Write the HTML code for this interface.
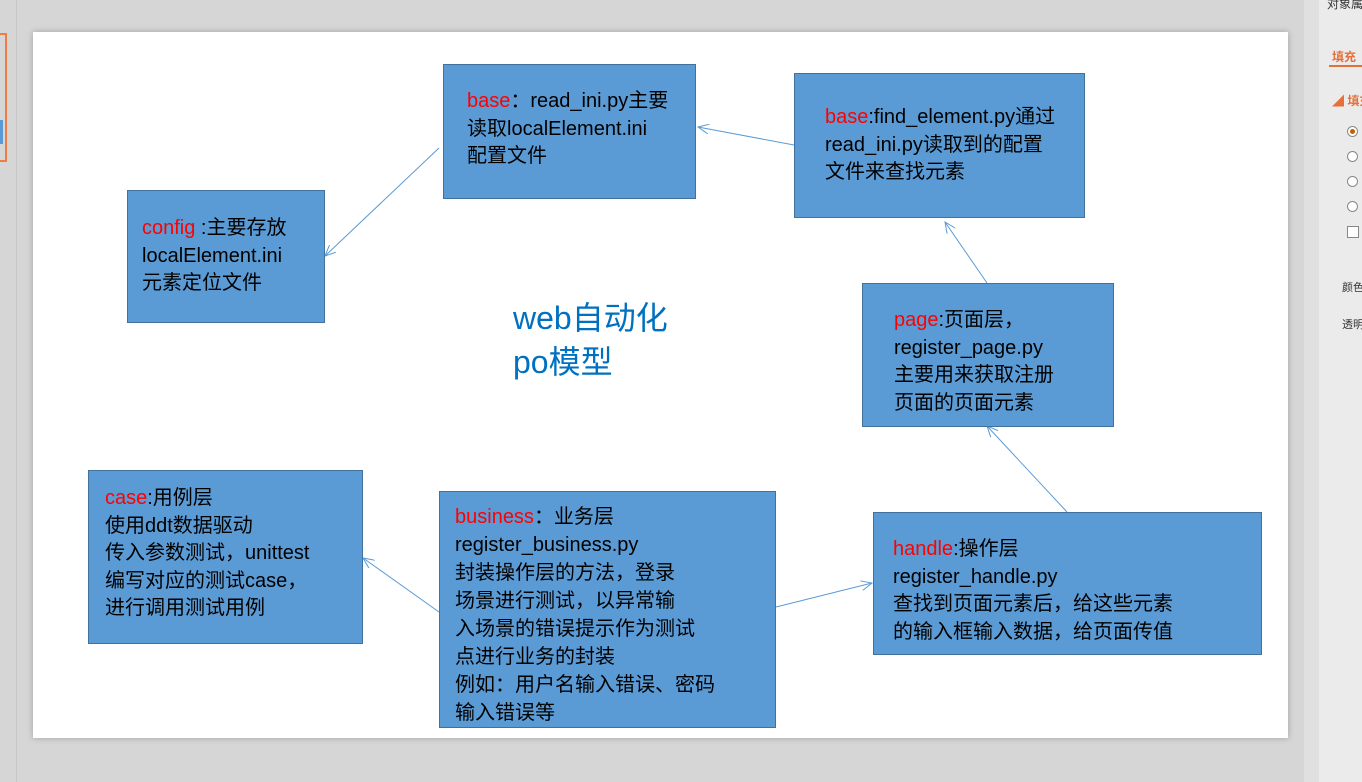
<!DOCTYPE html>
<html><head><meta charset="utf-8"><style>
body{margin:0;width:1362px;height:782px;background:#d6d6d6;position:relative;overflow:hidden;font-family:"Liberation Sans","Noto Sans CJK SC",sans-serif}
.slide{position:absolute;left:33px;top:32px;width:1255px;height:706px;background:#fff;box-shadow:0 0 6px rgba(0,0,0,.25)}
.b{position:absolute;background:#5b9bd5;border:1px solid #41719c;box-sizing:border-box;color:#000;font-size:20px;line-height:27.5px;white-space:nowrap}
.r{color:#f00}
.panel{position:absolute;left:1319px;top:0;width:43px;height:782px;background:#ebebeb;font-size:11px;color:#333;overflow:hidden;white-space:nowrap}
.panel div{white-space:nowrap}
.sb{position:absolute;left:1304px;top:0;width:15px;height:782px;background:#e0e0e0}
.rad{position:absolute;left:1347px;width:11px;height:11px;border:1px solid #888;border-radius:50%;box-sizing:border-box;background:#fff}
</style></head><body>
<div style="position:absolute;left:0;top:33px;width:5px;height:125px;border:2px solid #ee7d45;border-left:none"></div>
<div style="position:absolute;left:0;top:120px;width:3px;height:24px;background:#5b9bd5"></div>
<div style="position:absolute;left:16px;top:0;width:1px;height:782px;background:#c8c8c8"></div>
<div class="slide"></div>
<div class="sb"></div>
<div class="panel">
<div style="position:absolute;left:8px;top:-5px;font-size:12px">对象属性</div>
<div style="position:absolute;left:13px;top:48px;color:#e5703a;font-weight:bold;font-size:12px">填充</div>
<div style="position:absolute;left:10px;top:65px;width:33px;height:2px;background:#e5703a"></div>
<div style="position:absolute;left:13px;top:92px;color:#e5703a;font-size:12px;font-weight:bold">◢ 填充</div>
<div style="position:absolute;left:23px;top:279px">颜色</div>
<div style="position:absolute;left:23px;top:316px">透明度</div>
</div>
<div class="rad" style="top:126px"></div>
<div style="position:absolute;left:1350px;top:129px;width:5px;height:5px;border-radius:50%;background:#c06000"></div>
<div class="rad" style="top:151px"></div>
<div class="rad" style="top:176px"></div>
<div class="rad" style="top:201px"></div>
<div style="position:absolute;left:1347px;top:226px;width:12px;height:12px;border:1px solid #888;box-sizing:border-box;background:#fff"></div>

<svg style="position:absolute;left:0;top:0" width="1362" height="782">
<defs><marker id="a" markerWidth="12" markerHeight="10" refX="11" refY="5" orient="auto" markerUnits="userSpaceOnUse"><path d="M0,0 L11,5 L0,10" fill="none" stroke="#5b9bd5" stroke-width="1"/></marker></defs>
<g stroke="#5b9bd5" stroke-width="1" fill="none" marker-end="url(#a)">
<line x1="439" y1="148" x2="325" y2="256"/>
<line x1="794" y1="145" x2="698" y2="127"/>
<line x1="987" y1="283" x2="945" y2="222"/>
<line x1="1067" y1="512" x2="987" y2="426"/>
<line x1="776" y1="607" x2="872" y2="583"/>
<line x1="439" y1="612" x2="363" y2="558"/>
</g></svg>

<div class="b" style="left:443px;top:64px;width:253px;height:135px;padding:23px 0 0 23px"><span class="r">base</span>：read_ini.py主要<br>读取localElement.ini<br>配置文件</div>
<div class="b" style="left:794px;top:73px;width:291px;height:145px;padding:30px 0 0 30px"><span class="r">base</span>:find_element.py通过<br>read_ini.py读取到的配置<br>文件来查找元素</div>
<div class="b" style="left:127px;top:190px;width:198px;height:133px;padding:24px 0 0 14px"><span class="r">config</span> :主要存放<br>localElement.ini<br>元素定位文件</div>
<div class="b" style="left:862px;top:283px;width:252px;height:144px;padding:23px 0 0 31px"><span class="r">page</span>:页面层，<br>register_page.py<br>主要用来获取注册<br>页面的页面元素</div>
<div class="b" style="left:88px;top:470px;width:275px;height:174px;padding:14px 0 0 16px"><span class="r">case</span>:用例层<br>使用ddt数据驱动<br>传入参数测试，unittest<br>编写对应的测试case，<br>进行调用测试用例</div>
<div class="b" style="left:439px;top:491px;width:337px;height:237px;padding:11px 0 0 15px;line-height:28px"><span class="r">business</span>：业务层<br>register_business.py<br>封装操作层的方法，登录<br>场景进行测试，以异常输<br>入场景的错误提示作为测试<br>点进行业务的封装<br>例如：用户名输入错误、密码<br>输入错误等</div>
<div class="b" style="left:873px;top:512px;width:389px;height:143px;padding:23px 0 0 19px"><span class="r">handle</span>:操作层<br>register_handle.py<br>查找到页面元素后，给这些元素<br>的输入框输入数据，给页面传值</div>
<div style="position:absolute;left:513px;top:296px;color:#0070c0;font-size:32px;line-height:44px">web自动化<br>po模型</div>
</body></html>
